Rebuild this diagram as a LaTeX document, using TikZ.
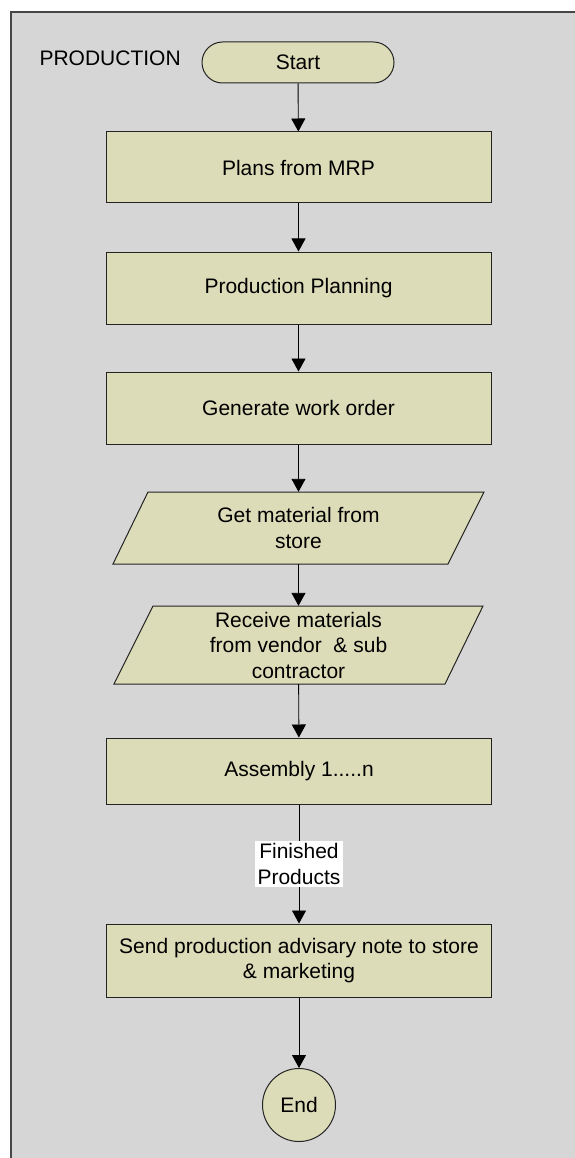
\documentclass[tikz,border=0pt]{standalone}
\usepackage{fontspec}
\setmainfont{Liberation Sans}
\usetikzlibrary{arrows.meta}
\definecolor{panel}{RGB}{214,214,214}
\definecolor{panelline}{RGB}{70,70,70}
\definecolor{boxfill}{RGB}{221,220,184}
\definecolor{edge}{RGB}{35,35,35}
\begin{document}
\begin{tikzpicture}[x=1pt,y=-1pt,
  txt/.style={font=\fontsize{21}{25.5}\selectfont, align=center, text=black},
  procbox/.style={txt, draw=edge, fill=boxfill, line width=1pt,
    minimum width=385pt, inner sep=0pt},
  termbox/.style={txt, draw=edge, fill=boxfill, line width=1pt,
    minimum width=192pt, minimum height=41pt, rounded corners=20.5pt, inner sep=0pt},
  endcircle/.style={txt, circle, draw=edge, fill=boxfill, line width=1pt,
    minimum size=73pt, inner sep=0pt},
  iotext/.style={txt, minimum width=300pt, inner sep=0pt},
  ioshape/.style={draw=edge, fill=boxfill, line width=1pt},
  lbl/.style={txt, fill=white, inner sep=3pt},
  flow/.style={-{Triangle[width=14pt,length=13pt]}, line width=0.9pt, black}]
\useasboundingbox (0,0) rectangle (574,1158);
% swimlane panel
\draw[fill=panel, draw=panelline, line width=1.6pt] (11,12) rectangle (600,1200);
\node[txt, anchor=base west] (title) at (36,66) {PRODUCTION};

% process steps
\node[termbox] (start) at (298,62.5) {Start};
\node[procbox, minimum height=71pt] (plans) at (298.5,167.5) {Plans from MRP};
\node[procbox, minimum height=72pt] (pplan) at (298.5,288) {Production Planning};
\node[procbox, minimum height=72pt] (order) at (298.5,408) {Generate work order};

% input/output steps (parallelograms)
\draw[ioshape] (148,492) -- (484,492) -- (448,564) -- (113,564) -- cycle;
\node[iotext, minimum height=72pt] (getmat) at (298.5,528) {Get material from\\store};
\draw[ioshape] (153,606) -- (483,606) -- (445,684) -- (114,684) -- cycle;
\node[iotext, minimum height=78pt] (recv) at (298.5,645) {Receive materials\\from vendor\ \ \& sub\\contractor};

\node[procbox, minimum height=66pt] (asm) at (299,771) {Assembly 1.....n};
\node[procbox, minimum height=73pt] (send) at (299,960.5) {Send production advisary note to store\\\& marketing};
\node[endcircle] (finish) at (299,1105) {End};

% connectors
\draw[flow] (start) -- (plans);
\draw[flow] (plans) -- (pplan);
\draw[flow] (pplan) -- (order);
\draw[flow] (order) -- (getmat);
\draw[flow] (getmat) -- (recv);
\draw[flow] (recv) -- (asm);
\draw[flow] (asm) -- node[lbl] (fin) {Finished\\Products} (send);
\draw[flow] (send) -- (finish);
\end{tikzpicture}
\end{document}
